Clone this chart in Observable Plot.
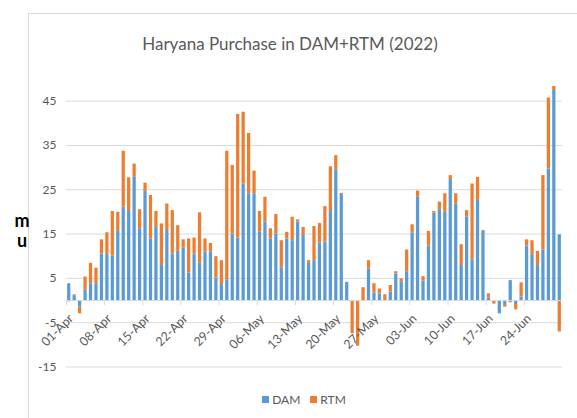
<!DOCTYPE html>
<html>
<head>
<meta charset="utf-8">
<script src="https://cdn.jsdelivr.net/npm/d3@7"></script>
<script src="https://cdn.jsdelivr.net/npm/@observablehq/plot@0.6"></script>
<style>
  html, body { margin: 0; padding: 0; background: #fff; }
  #wrap { position: relative; width: 577px; height: 418px; overflow: hidden; background: #fff; font-family: Lato, "Open Sans", sans-serif; }
  #frame { position: absolute; left: 28px; top: 13px; width: 620px; height: 440px; border: 1px solid #d9d9d9; box-sizing: border-box; }
  #title { position: absolute; left: 0; top: 33px; width: 580px; text-align: center; font-size: 17px; color: #595959; line-height: 22px; }
  #ylab { position: absolute; left: 12px; top: 210px; width: 20px; text-align: center; font-size: 18px; font-weight: bold; color: #000; }
  #ylab div { height: 20px; line-height: 20px; }
  #chart { position: absolute; left: 0; top: 60px; }
  #legend { position: absolute; left: 0; top: 392px; width: 608px; display: flex; justify-content: center; gap: 10px; font-size: 12px; color: #595959; }
  #legend span.item { display: inline-flex; align-items: center; gap: 3px; }
  #legend span.sw { display: inline-block; width: 7px; height: 7px; }
</style>
</head>
<body>
<div id="wrap">
  <div id="frame"></div>
  <div id="title"></div>
  <div id="ylab"></div>
  <div id="chart"></div>
  <div id="legend"></div>
</div>
<script>
const chartTitle = "Haryana Purchase in DAM+RTM (2022)";
const yTitle = "mu";
const startDay = "2022-04-01";
const endDay = "2022-07-01";
const seriesNames = ["DAM", "RTM"];
const seriesColors = ["#5B9BD5", "#ED7D31"];
const yTicks = [-15, -5, 5, 15, 25, 35, 45];
const xTickLabels = ["01-Apr", "08-Apr", "15-Apr", "22-Apr", "29-Apr", "06-May", "13-May", "20-May", "27-May", "03-Jun", "10-Jun", "17-Jun", "24-Jun"];

// DAM purchase, one value per day (01-Apr .. 30-Jun)
const dam = [
  3.8, 1.1, -1.5, 2.3, 3.8, 3.8, 10.5,
  10.4, 10.0, 15.6, 21.1, 20.1, 27.8, 16.2,
  24.6, 13.9, 16.5, 7.9, 15.8, 10.5, 11.1,
  11.8, 6.2, 10.5, 8.4, 10.9, 10.9, 5.1,
  3.6, 4.7, 15.0, 14.1, 26.3, 24.1, 24.1,
  15.4, 17.7, 13.9, 15.0, 7.4, 13.9, 13.5,
  17.7, 14.7, 8.4, 9.0, 13.0, 13.2, 20.1,
  29.5, 23.9, 4.1, 0, 0, 0, 7.1,
  1.7, 1.5, 0.2, 1.9, 6.0, 4.1, 6.5,
  15.2, 23.3, 4.4, 12.3, 19.7, 20.5, 19.9,
  27.3, 21.8, 7.9, 18.9, 9.2, 22.6, 15.6,
  0.6, 0, -3.0, -1.1, 4.5, -0.9, 0.8,
  12.3, 10.2, 7.9, 11.4, 29.7, 47.4, 14.8
];
// RTM purchase, one value per day (01-Apr .. 30-Jun)
const rtm = [
  -0.3, 0.2, -1.5, 3.0, 4.6, 3.5, 3.2,
  4.9, 10.1, 4.3, 12.6, 7.6, 3.0, 4.3,
  1.9, 9.8, 3.6, 9.4, 6.0, 9.8, 5.8,
  1.9, 7.7, 3.6, 11.4, 3.0, 2.0, 4.8,
  5.4, 29.0, 15.5, 27.9, 16.2, 13.6, 5.1,
  4.7, 5.6, 2.3, 4.4, 6.1, 1.5, 5.3,
  0.5, 1.8, 0.6, 7.7, 4.4, 8.0, 10.1,
  3.2, 0.3, 0, -7.5, -10.3, 2.9, 1.9,
  2.1, 1.1, 1.1, 1.5, 0.5, 0.8, 4.9,
  1.9, 1.4, 1.0, 3.3, 0.4, 1.7, 4.2,
  0.9, 2.3, 4.7, 1.4, 17.1, 5.2, 0.2,
  0.9, -0.8, 0, -0.4, -0.5, -1.2, 3.2,
  1.4, 3.3, 3.2, 16.8, 16.0, 0.9, -7.1
];

const days = d3.utcDay.range(new Date(startDay), new Date(endDay));
const rows = days.flatMap((d, i) => [
  {date: d, series: seriesNames[0], value: dam[i]},
  {date: d, series: seriesNames[1], value: rtm[i]}
]);
const tickDays = xTickLabels.map((label, k) => ({date: days[k * 7], label}));

document.getElementById("title").textContent = chartTitle;
const ylab = document.getElementById("ylab");
yTitle.split("").forEach(ch => {
  const line = document.createElement("div");
  line.textContent = ch;
  ylab.appendChild(line);
});

const chart = Plot.plot({
  width: 577,
  height: 330,
  marginLeft: 66,
  marginRight: 15,
  marginTop: 18.5,
  marginBottom: 23.5,
  x: {type: "utc", domain: [new Date(startDay), new Date(endDay)], axis: null},
  y: {domain: [-15, 50], axis: null},
  color: {domain: seriesNames, range: seriesColors},
  style: {fontFamily: "Lato, 'Open Sans', sans-serif", background: "transparent", overflow: "visible"},
  marks: [
    Plot.ruleY(yTicks, {stroke: "#d9d9d9", strokeWidth: 1}),
    Plot.text(yTicks, {y: d => d, text: d => String(d), frameAnchor: "left", textAnchor: "end", dx: -10, fill: "#595959", fontSize: 12}),
    Plot.rectY(rows, {
      x1: "date",
      x2: d => d3.utcDay.offset(d.date, 1),
      y: "value",
      fill: "series",
      insetLeft: 1.1,
      insetRight: 1.1
    }),
    Plot.ruleY([0], {stroke: "#d9d9d9", strokeWidth: 1}),
    Plot.ruleX(tickDays, {x: "date", y1: 0, y2: 0, insetBottom: -5, stroke: "#d9d9d9"}),
    Plot.text(tickDays, {
      x: d => d3.utcHour.offset(d.date, 12),
      y: 0,
      text: "label",
      rotate: -45,
      textAnchor: "end",
      dx: 2,
      dy: 16,
      fill: "#595959",
      fontSize: 12.5
    })
  ]
});
document.getElementById("chart").appendChild(chart);

const legend = document.getElementById("legend");
seriesNames.forEach((name, i) => {
  const item = document.createElement("span");
  item.className = "item";
  const sw = document.createElement("span");
  sw.className = "sw";
  sw.style.background = seriesColors[i];
  const label = document.createElement("span");
  label.textContent = name;
  item.appendChild(sw);
  item.appendChild(label);
  legend.appendChild(item);
});
</script>
</body>
</html>
